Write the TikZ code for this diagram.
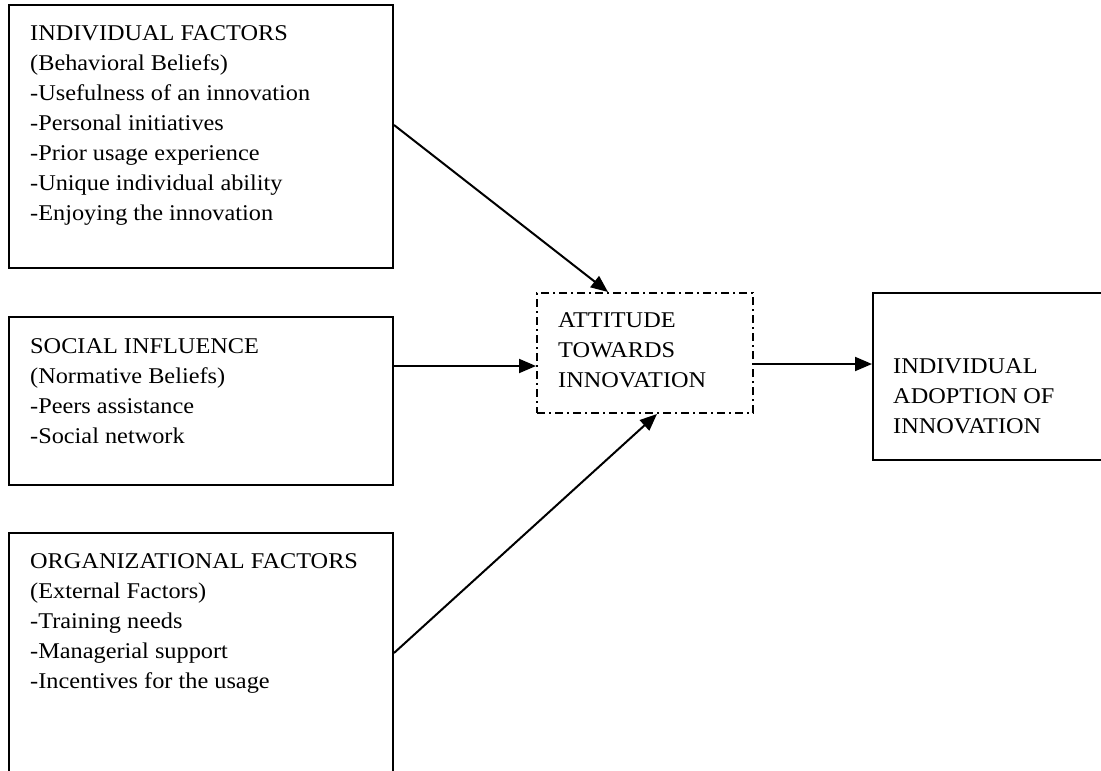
\documentclass[tikz,border=0pt]{standalone}
\usepackage{fontspec}
\setmainfont[FakeStretch=1.08]{Liberation Serif}
\usetikzlibrary{arrows.meta}
\begin{document}
\begin{tikzpicture}[x=1pt,y=-1pt,
  box/.style={draw,line width=2pt,rectangle,inner sep=0pt},
  dbox/.style={draw,line width=2pt,rectangle,inner sep=0pt,dash pattern=on 8pt off 4pt on 2pt off 4pt},
  txt/.style={anchor=north west,inner sep=0pt,align=left,font=\fontsize{22.5}{30}\selectfont},
  conn/.style={line width=2pt,-{Triangle[length=17pt,width=14pt]}}]
\clip (0,0) rectangle (1101,771);
\fill[white] (0,0) rectangle (1101,771);
\node[box,minimum width=384pt,minimum height=263pt] (b1) at (201,136.5) {};
\node[box,minimum width=384pt,minimum height=168pt] (b2) at (201,401) {};
\node[box,minimum width=384pt,minimum height=267pt] (b3) at (201,666.5) {};
\node[dbox,minimum width=216pt,minimum height=120pt] (att) at (645,353) {};
\node[box,minimum width=237pt,minimum height=167pt] (adopt) at (991.5,376.5) {};
\node[txt] (t1) at (30,25) {INDIVIDUAL FACTORS\\(Behavioral Beliefs)\\-Usefulness of an innovation\\-Personal initiatives\\-Prior usage experience\\-Unique individual ability\\-Enjoying the innovation};
\node[txt] (t2) at (30,338) {SOCIAL INFLUENCE\\(Normative Beliefs)\\-Peers assistance\\-Social network};
\node[txt] (t3) at (30,553) {ORGANIZATIONAL FACTORS\\(External Factors)\\-Training needs\\-Managerial support\\-Incentives for the usage};
\node[txt] (t4) at (558,312) {ATTITUDE\\TOWARDS\\INNOVATION};
\node[txt] (t5) at (893,358) {INDIVIDUAL\\ADOPTION OF\\INNOVATION};
\draw[conn] ([yshift=11.5pt]b1.east) -- ([xshift=-37pt]att.north);
\draw[conn] ([yshift=35pt]b2.east) -- ([yshift=-13pt]att.west);
\draw[conn] ([yshift=13.5pt]b3.east) -- ([xshift=12pt]att.south);
\draw[conn] ([yshift=-11pt]att.east) -- ([yshift=12.5pt]adopt.west);
\end{tikzpicture}
\end{document}
